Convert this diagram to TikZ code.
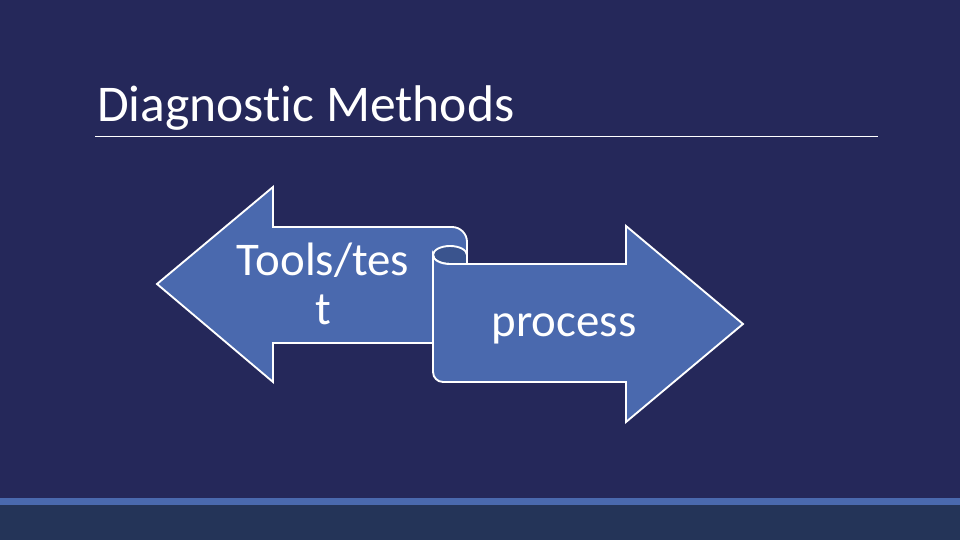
\documentclass[tikz,border=0pt]{standalone}
\usepackage{fontspec}
\setmainfont{Carlito}[Ligatures={NoCommon}]
\definecolor{slidebg}{RGB}{37,40,90}
\definecolor{arrowblue}{RGB}{74,105,174}
\definecolor{rolldark}{RGB}{58,84,142}
\definecolor{footdark}{RGB}{36,52,88}
\begin{document}
\begin{tikzpicture}[x=0.03cm,y=0.03cm,
  arrowshape/.style={fill=arrowblue, draw=white, line width=1.6pt},
  arrowtext/.style={text=white, font=\fontsize{40}{42.5}\selectfont, align=center, inner sep=0pt}]
% slide background and footer band
\fill[slidebg] (0,0) rectangle (960,540);
\fill[footdark] (0,0) rectangle (960,35);
\fill[arrowblue] (0,35) rectangle (960,42);
\node[anchor=base west, text=white, font=\fontsize{44}{50}\selectfont, inner sep=0pt] (title) at (97,418) {Diagnostic Methods};
\draw[white, line width=0.6pt] (95,404) -- (878,404);
% left arrow
\draw[arrowshape] (157,256) -- (273,353) -- (273,313) -- (452,313)
  arc[start angle=90, end angle=0, radius=15] -- (467,197) -- (273,197) -- (273,158) -- cycle;
% inside of the roll
\draw[arrowshape, fill=rolldark] (433,285) arc[start angle=180, end angle=0, x radius=17, y radius=9]
  -- (467,276) -- (450,276) arc[start angle=-90, end angle=-180, x radius=17, y radius=9] -- cycle;
% right arrow
\draw[arrowshape] (433,285) -- (433,168) arc[start angle=180, end angle=270, radius=10]
  -- (626,158) -- (626,118) -- (743,216) -- (626,314) -- (626,276) -- (450,276)
  arc[start angle=-90, end angle=-180, x radius=17, y radius=9] -- cycle;
\node[arrowtext, anchor=base] (tools) at (323,215) {Tools/tes\\t};
\node[arrowtext, anchor=base] (process) at (564,203) {process};
\end{tikzpicture}
\end{document}
